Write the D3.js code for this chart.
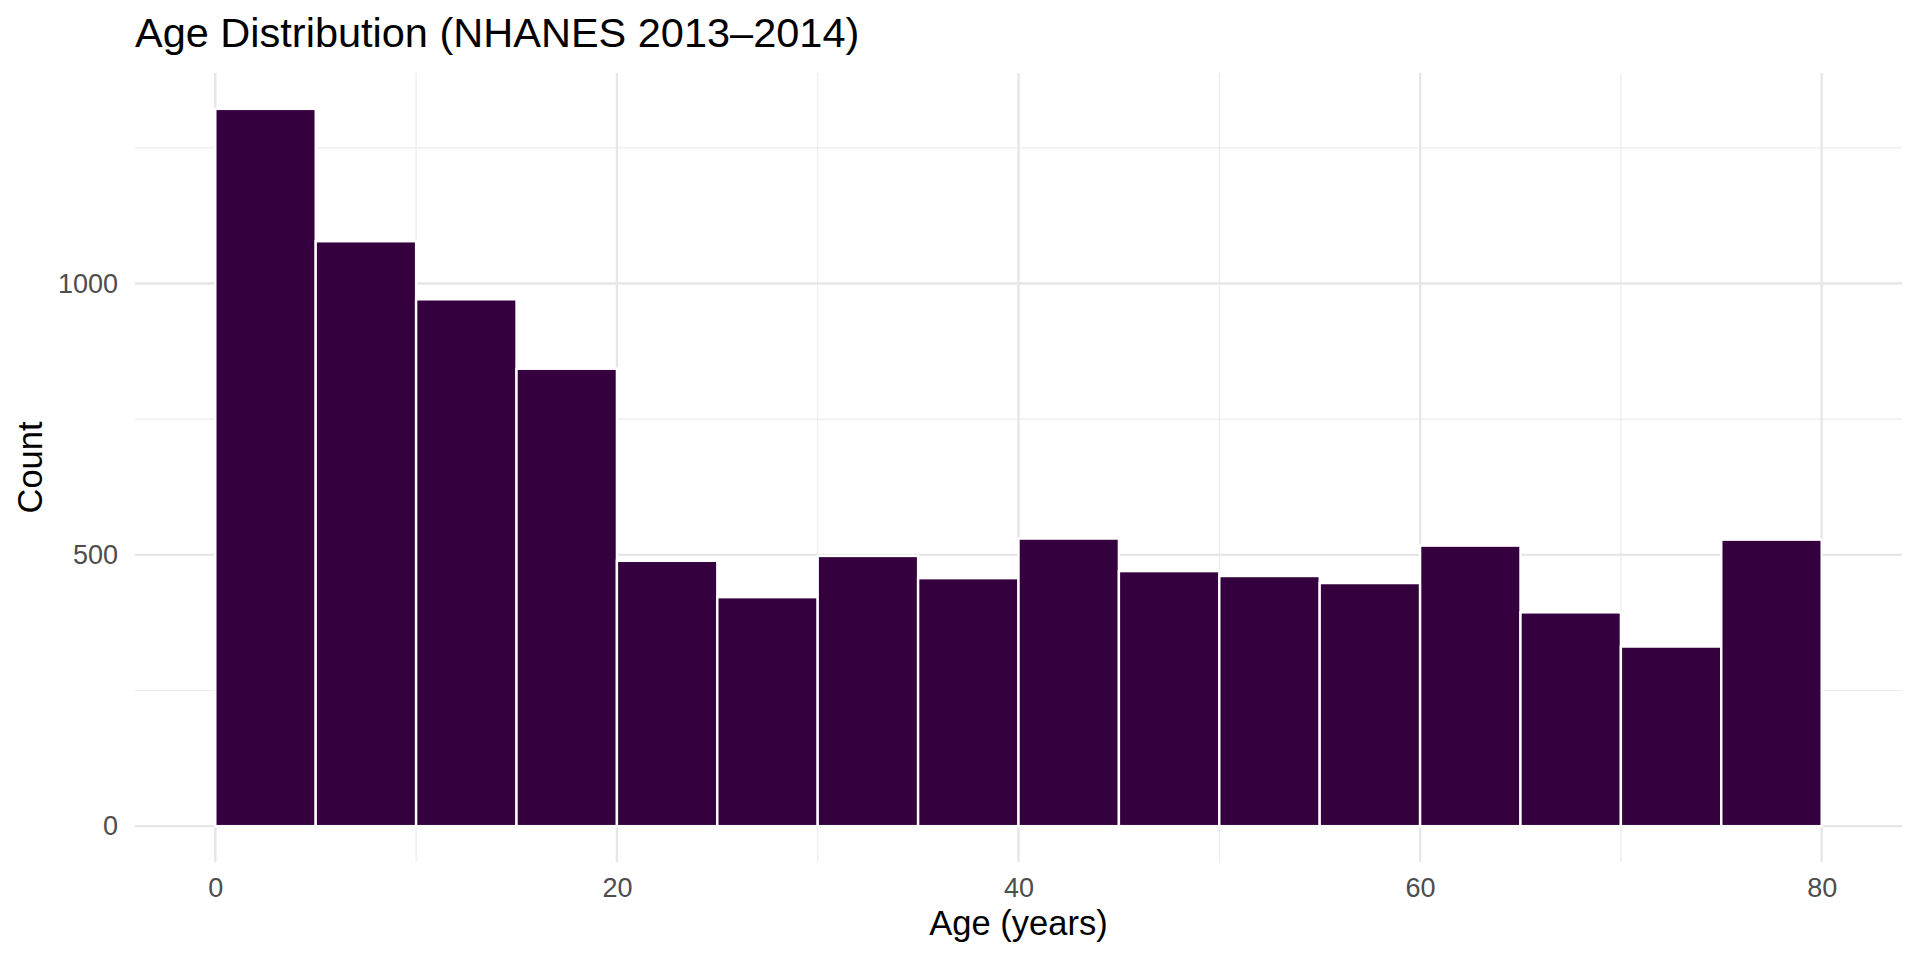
<!DOCTYPE html>
<html lang="en">
<head>
  <meta charset="UTF-8">
  <title>Age Distribution</title>
  <style>
    body { margin: 0; background: #fff; }
    text { font-family: "Liberation Sans", Arial, sans-serif; }
  </style>
</head>
<body>
  <svg></svg>
</body>
<script src="https://cdn.jsdelivr.net/npm/d3@7"></script>
<script>
  // histogram bins (binwidth 5, boundary 0) and counts
  var binStarts = [0, 5, 10, 15, 20, 25, 30, 35, 40, 45, 50, 55, 60, 65, 70, 75]
  var counts = [1322, 1078, 971, 843, 489, 422, 498, 457, 530, 470, 461, 448, 517, 394, 331, 528]
  var binWidth = 5
  var xMajor = [0, 20, 40, 60, 80]
  var xMinor = [10, 30, 50, 70]
  var yMajor = [0, 500, 1000]
  var yMinor = [250, 750, 1250]

  var width = 1920
  var height = 960
  var panel = {left: 135, right: 1902, top: 73, bottom: 862}

  var svg = d3.select('svg')
    .attr('width', width)
    .attr('height', height)

  // ggplot-style 5% expansion on both axes
  var yTop = d3.max(counts)
  var x = d3.scaleLinear().domain([-4, 84]).range([panel.left, panel.right])
  var y = d3.scaleLinear().domain([-yTop * 0.05, yTop * 1.05]).range([panel.bottom, panel.top])

  var grid = svg.append('g')
  grid.selectAll('.ymin').data(yMinor).enter().append('line')
    .attr('x1', panel.left).attr('x2', panel.right)
    .attr('y1', d => y(d)).attr('y2', d => y(d))
    .attr('stroke', '#ebebeb').attr('stroke-width', 1.2)
  grid.selectAll('.xmin').data(xMinor).enter().append('line')
    .attr('y1', panel.top).attr('y2', panel.bottom)
    .attr('x1', d => x(d)).attr('x2', d => x(d))
    .attr('stroke', '#ebebeb').attr('stroke-width', 1.2)
  grid.selectAll('.ymaj').data(yMajor).enter().append('line')
    .attr('x1', panel.left).attr('x2', panel.right)
    .attr('y1', d => y(d)).attr('y2', d => y(d))
    .attr('stroke', '#e6e6e6').attr('stroke-width', 2.4)
  grid.selectAll('.xmaj').data(xMajor).enter().append('line')
    .attr('y1', panel.top).attr('y2', panel.bottom)
    .attr('x1', d => x(d)).attr('x2', d => x(d))
    .attr('stroke', '#e6e6e6').attr('stroke-width', 2.4)

  svg.append('g').selectAll('rect')
    .data(counts)
    .enter()
    .append('rect')
    .attr('x', (d, i) => x(binStarts[i]))
    .attr('width', (d, i) => x(binStarts[i] + binWidth) - x(binStarts[i]))
    .attr('y', d => y(d))
    .attr('height', d => y(0) - y(d))
    .attr('fill', '#35003e')
    .attr('stroke', '#ffffff')
    .attr('stroke-width', 2.4)

  // axes: labels only, no domain line or tick marks (theme_minimal)
  svg.append('g')
    .attr('transform', `translate(0,${panel.bottom})`)
    .call(d3.axisBottom(x).tickValues(xMajor).tickFormat(d3.format('d')).tickSize(0).tickPadding(16))
  svg.append('g')
    .attr('transform', `translate(${panel.left},0)`)
    .call(d3.axisLeft(y).tickValues(yMajor).tickFormat(d3.format('d')).tickSize(0).tickPadding(17))
  svg.selectAll('.domain').remove()
  svg.selectAll('.tick text')
    .attr('fill', '#4d4d4d')
    .style('font-size', '27px')
    .style('font-family', '"Liberation Sans", Arial, sans-serif')

  // title sits flush with the panel's left edge
  svg.append('text')
    .attr('x', panel.left).attr('y', 47)
    .style('font-size', '41.5px')
    .text('Age Distribution (NHANES 2013–2014)')

  svg.append('text')
    .attr('x', (panel.left + panel.right) / 2).attr('y', 935)
    .attr('text-anchor', 'middle')
    .style('font-size', '34.5px')
    .text('Age (years)')

  svg.append('text')
    .attr('transform', `translate(41.5,${(panel.top + panel.bottom) / 2}) rotate(-90)`)
    .attr('text-anchor', 'middle')
    .style('font-size', '34.5px')
    .text('Count')
</script>
</html>
